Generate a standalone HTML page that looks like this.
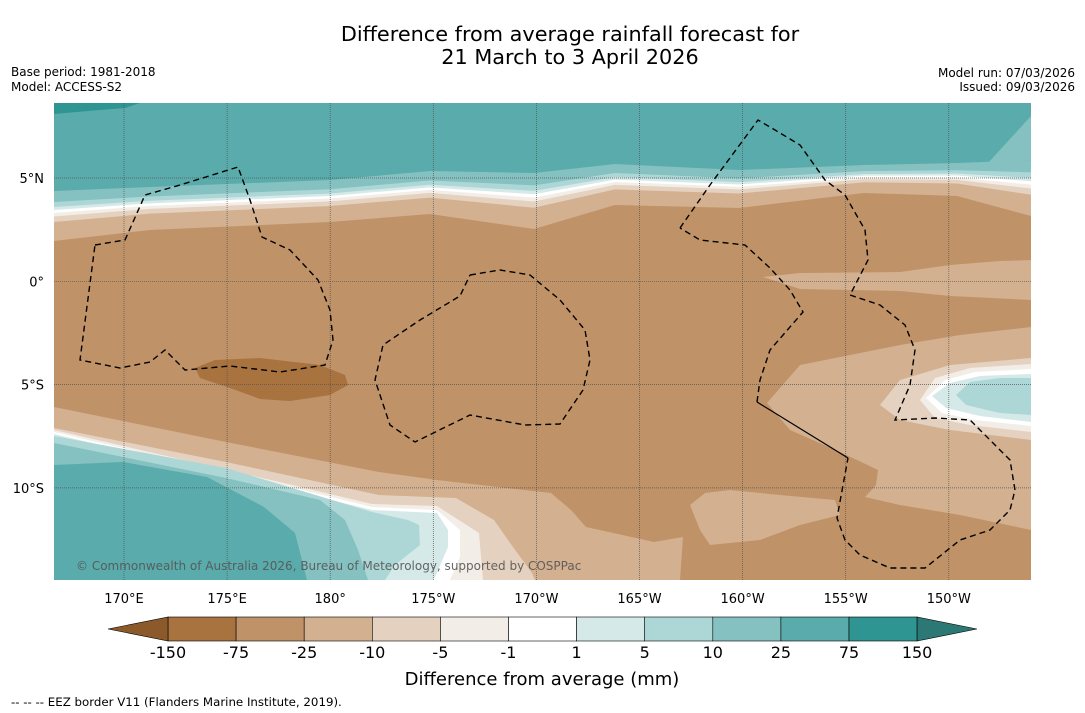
<!DOCTYPE html>
<html><head><meta charset="utf-8"><style>
body{margin:0;background:#fff;width:1085px;height:713px;overflow:hidden;font-family:"DejaVu Sans","Liberation Sans",sans-serif}
svg{position:absolute;left:0;top:0}
</style></head><body>
<svg id="s" width="1085" height="713" viewBox="0 0 1085 713" xmlns="http://www.w3.org/2000/svg" font-family="DejaVu Sans, Liberation Sans, sans-serif">
<text x="570" y="41" font-size="20.8" text-anchor="middle">Difference from average rainfall forecast for</text>
<text x="570" y="64" font-size="20.8" text-anchor="middle">21 March to 3 April 2026</text>
<text x="11" y="76" font-size="12">Base period: 1981-2018</text>
<text x="11" y="91" font-size="12">Model: ACCESS-S2</text>
<text x="1075" y="77" font-size="12" text-anchor="end">Model run: 07/03/2026</text>
<text x="1075" y="91" font-size="12" text-anchor="end">Issued: 09/03/2026</text>
<defs><clipPath id="mc"><rect x="54" y="103" width="977" height="477"/></clipPath></defs>
<g id="map" clip-path="url(#mc)">
<rect x="54" y="103" width="977" height="477" fill="#bf9268"/>
</g>
<g id="legend"></g>
<text x="542" y="685" font-size="18" text-anchor="middle">Difference from average (mm)</text>
<text x="11" y="706" font-size="11.8">--  --  -- EEZ border V11 (Flanders Marine Institute, 2019).</text>
</svg>
<script>
const NS="http://www.w3.org/2000/svg";
const levels=["-150","-75","-25","-10","-5","-1","1","5","10","25","75","150"];
const bandColors=["#a8733f","#bf9268","#d3b08f","#e5d1bf","#f2ede6","#ffffff","#d4e9e8","#acd7d6","#84c1c0","#5aabab","#2e9592"];
const extLow="#8c5a2a", extHigh="#2c7875";
const lonLabels=["170°E","175°E","180°","175°W","170°W","165°W","160°W","155°W","150°W"];
const latLabels=["5°N","0°","5°S","10°S"];
const bandX=[54,150,330,430,534,615,739,864,957,1031];
const tealEdge=[191,187,180,171,173,164,170,165,163,160];
const brownEdge=[241,230,222,214,229,205,208,193,196,216];
const s=document.getElementById('s'),map=document.getElementById('map'),leg=document.getElementById('legend');
function el(t,a,p){const e=document.createElementNS(NS,t);for(const k in a)e.setAttribute(k,a[k]);(p||map).appendChild(e);return e;}
function poly(pts,fill,name){const e=el('polygon',{points:pts.map(p=>p.join(',')).join(' '),fill:fill});

return e;}
const lonX=i=>124+i*103.1, latY=i=>178+i*103.3;
const bounds=[0,0.22,0.32,0.38,0.44,0.51,0.62,1.0];
const cols=["#84c1c0","#acd7d6","#d4e9e8","#ffffff","#f2ede6","#e5d1bf","#d3b08f"];
for(let k=cols.length-1;k>=0;k--){
 const f=bounds[k+1]; const pts=[[1031,103],[54,103]];
 bandX.forEach((x,i)=>pts.push([x,tealEdge[i]+f*(brownEdge[i]-tealEdge[i])]));
 poly(pts,cols[k],'top-band-'+k);
}
{const pts=[[1031,103],[54,103]];bandX.forEach((x,i)=>pts.push([x,tealEdge[i]]));poly(pts,"#5aabab",'top-wet-region');}
poly([[988,163],[1031,116],[1031,160]],"#84c1c0",'top-right-light-teal');
poly([[54,103],[140,103],[125,108],[100,110],[54,114]],"#2e9592",'top-left-dark-teal');
poly([[195,368],[215,360],[260,358],[320,365],[345,375],[348,385],[330,395],[290,401],[260,399],[230,388],[200,378]],"#a8733f",'central-dry-blob');
poly([[763,277],[800,273],[900,272],[950,265],[1000,261],[1031,260],[1031,300],[950,296],[900,291],[800,289]],"#d3b08f",'equator-tan-band');
poly([[767,403],[800,365],[850,355],[900,345],[960,335],[1031,327],[1031,530],[960,515],[900,505],[865,497],[876,485],[878,470],[840,452],[790,430]],"#d3b08f",'right-tan-region');
poly([[690,505],[705,493],[730,490],[780,495],[835,500],[840,515],[800,525],[760,540],[710,545],[700,530]],"#d3b08f",'lower-tan-blob');
poly([[880,405],[900,380],[950,365],[1031,358],[1031,440],[950,430],[900,420]],"#e5d1bf",'right-pale-region');
poly([[920,400],[935,378],[970,368],[1031,364],[1031,432],[970,425],[935,418]],"#f2ede6",'right-cream');
poly([[926,398],[945,380],[975,372],[1031,369],[1031,426],[975,420],[942,413]],"#ffffff",'right-white');
poly([[932,396],[950,383],[980,376],[1031,374],[1031,422],[980,416],[946,408]],"#d4e9e8",'right-light-teal');
poly([[956,395],[970,382],[1000,378],[1031,378],[1031,415],[1000,413],[966,405]],"#acd7d6",'right-wet-core');
poly([[54,407],[226,442],[379,472],[437,480],[551,493],[571,510],[586,527],[654,542],[683,537],[680,580],[54,580]],"#d3b08f",'bottom-tan');
poly([[54,428],[226,462],[379,495],[456,498],[494,520],[513,547],[532,573],[535,580],[54,580]],"#e5d1bf",'bottom-pale');
poly([[54,430],[284,483],[372,504],[437,506],[479,533],[483,580],[54,580]],"#f2ede6",'bottom-cream');
poly([[54,432],[290,487],[372,507],[437,510],[460,530],[460,557],[450,580],[54,580]],"#ffffff",'bottom-white');
poly([[54,434],[290,490],[372,510],[437,513],[448,530],[448,547],[436,575],[433,580],[54,580]],"#d4e9e8",'bottom-light-teal');
poly([[54,436],[226,468],[372,512],[408,520],[419,525],[420,545],[395,565],[385,580],[54,580]],"#acd7d6",'bottom-pale-teal');
poly([[54,443],[226,478],[320,500],[345,520],[358,550],[368,580],[54,580]],"#84c1c0",'bottom-mid-teal');
poly([[54,465],[123,462],[207,477],[264,507],[295,533],[307,580],[54,580]],"#5aabab",'bottom-wet-core');
for(let i=0;i<9;i++){const l=el('line',{x1:lonX(i),x2:lonX(i),y1:103,y2:580,stroke:'#555','stroke-width':0.7,'stroke-dasharray':'1 1'});

}
for(let i=0;i<4;i++){const l=el('line',{x1:54,x2:1031,y1:latY(i),y2:latY(i),stroke:'#555','stroke-width':0.7,'stroke-dasharray':'1 1'});

}
const eez=[
[[95,245],[125,240],[145,195],[180,185],[238,167],[250,200],[262,237],[290,250],[318,280],[330,310],[333,340],[325,365],[280,372],[230,366],[185,370],[165,350],[150,362],[120,368],[80,360],[95,245]],
[[470,275],[500,270],[530,275],[560,300],[585,330],[590,360],[583,390],[560,424],[525,425],[470,415],[415,442],[390,425],[375,380],[383,345],[420,320],[460,296],[470,275]],
[[680,228],[710,185],[758,120],[775,130],[800,145],[825,180],[845,195],[865,230],[868,260],[850,295],[880,305],[905,325],[915,350],[910,385],[895,420],[935,418],[970,420],[990,440],[1010,460],[1015,490],[1010,510],[990,530],[960,540],[925,568],[890,568],[860,555],[845,540],[837,518],[848,458]],
[[757,402],[760,380],[770,350],[803,312],[790,290],[770,268],[745,245],[700,240],[680,228]]];
eez.forEach(p=>{const e=el('polyline',{points:p.map(q=>q.join(',')).join(' '),fill:'none',stroke:'#000','stroke-width':1.4,'stroke-dasharray':'6 4'});

});
{const e=el('line',{x1:757,y1:402,x2:848,y2:458,stroke:'#000','stroke-width':1.2});

}
{const t=el('text',{x:76,y:570,'font-size':12,fill:'#555','fill-opacity':0.9});t.textContent='© Commonwealth of Australia 2026, Bureau of Meteorology, supported by COSPPac';

}
lonLabels.forEach((t,i)=>{const e=el('text',{x:lonX(i),y:603,'font-size':13,'text-anchor':'middle'},s);e.textContent=t;

});
latLabels.forEach((t,i)=>{const e=el('text',{x:44,y:latY(i)+5,'font-size':13,'text-anchor':'end'},s);e.textContent=t;

});
const cbX=168,cbW=68.1,cbY=617,cbH=24;
bandColors.forEach((c,i)=>{const r=el('rect',{x:cbX+i*cbW,y:cbY,width:cbW,height:cbH,fill:c,stroke:'#000','stroke-width':0.6},leg);

});
{const e=el('polygon',{points:`${cbX},${cbY} ${cbX},${cbY+cbH} 108,${cbY+cbH/2}`,fill:extLow,stroke:'#000','stroke-width':0.6},leg);

}
{const xe=cbX+bandColors.length*cbW;const e=el('polygon',{points:`${xe},${cbY} ${xe},${cbY+cbH} 977,${cbY+cbH/2}`,fill:extHigh,stroke:'#000','stroke-width':0.6},leg);

}
levels.forEach((t,i)=>{const e=el('text',{x:cbX+i*cbW,y:658,'font-size':16,'text-anchor':'middle'},leg);e.textContent=t;

});
</script>
</body></html>
